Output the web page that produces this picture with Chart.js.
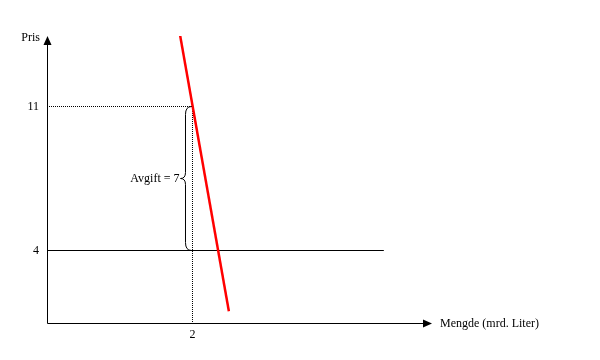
<!DOCTYPE html>
<html><head><meta charset="utf-8">
<script src="https://cdn.jsdelivr.net/npm/chart.js@4/dist/chart.umd.min.js"></script>
<style>html,body{margin:0;padding:0;background:#fff}canvas{display:block}</style>
</head><body>
<canvas id="c" width="600" height="360"></canvas>
<script>
// Data
const demandX = [1.83, 2.5];
const demandY = [14.45, 1.05];
const priceBefore = 4;        // pris uten avgift
const priceAfter = 11;        // pris med avgift
const quantity = 2;           // mengde
const priceLineEndX = 4.63;
const xTickValues = [2];
const xTickLabels = ['2'];
const yTickValues = [11, 4];
const yTickLabels = ['11', '4'];
const xAxisTitle = 'Mengde (mrd. Liter)';
const yAxisTitle = 'Pris';
const braceLabel = 'Avgift = 7';
const xMin = 0, xMax = 5.2921, yMin = 0.4757, yMax = 14.4271;

const FONT = '12px "Liberation Serif", "Times New Roman", serif';

const overlay = {
  id: 'overlay',
  afterDatasetsDraw(chart) {
    const ctx = chart.ctx, xs = chart.scales.x, ys = chart.scales.y;
    const ox = xs.getPixelForValue(xMin), oy = ys.getPixelForValue(yMin);
    const xe = xs.getPixelForValue(xMax), ye = ys.getPixelForValue(yMax);
    ctx.save();
    ctx.strokeStyle = '#000'; ctx.fillStyle = '#000'; ctx.lineWidth = 1;
    const ax = Math.round(ox) + 0.5, ay = Math.round(oy) + 0.5;
    // axes
    ctx.beginPath();
    ctx.moveTo(ax, ay); ctx.lineTo(ax, ye + 6);
    ctx.moveTo(ax, ay); ctx.lineTo(xe - 6, ay);
    ctx.stroke();
    // arrowheads
    ctx.beginPath();
    ctx.moveTo(ax, ye); ctx.lineTo(ax - 4, ye + 9); ctx.lineTo(ax + 4, ye + 9); ctx.closePath(); ctx.fill();
    ctx.beginPath();
    ctx.moveTo(xe, ay); ctx.lineTo(xe - 9, ay - 4); ctx.lineTo(xe - 9, ay + 4); ctx.closePath(); ctx.fill();
    // texts
    ctx.font = FONT; ctx.textBaseline = 'middle';
    ctx.textAlign = 'right';
    ctx.fillText(yAxisTitle, ox - 7, ye + 2);
    yTickValues.forEach((v, i) => ctx.fillText(yTickLabels[i], ox - 8, ys.getPixelForValue(v)));
    ctx.textAlign = 'center';
    xTickValues.forEach((v, i) => ctx.fillText(xTickLabels[i], xs.getPixelForValue(v), oy + 12));
    ctx.textAlign = 'left';
    ctx.fillText(xAxisTitle, xe + 8, oy + 1);
    // curly brace between priceAfter and priceBefore
    const top = ys.getPixelForValue(priceAfter), bot = ys.getPixelForValue(priceBefore);
    const qx = xs.getPixelForValue(quantity);
    const xr = qx - 1, xm = qx - 7, xt = qx - 12, mid = (top + bot) / 2;
    ctx.beginPath();
    ctx.moveTo(xr, top);
    ctx.quadraticCurveTo(xm, top, xm, top + 8);
    ctx.lineTo(xm, mid - 6);
    ctx.quadraticCurveTo(xm, mid, xt, mid);
    ctx.quadraticCurveTo(xm, mid, xm, mid + 6);
    ctx.lineTo(xm, bot - 8);
    ctx.quadraticCurveTo(xm, bot, xr, bot);
    ctx.stroke();
    ctx.textAlign = 'right';
    ctx.fillText(braceLabel, xt - 1, mid);
    ctx.restore();
  }
};

new Chart(document.getElementById('c'), {
  type: 'scatter',
  data: {
    datasets: [
      { data: [{x: 0, y: priceBefore}, {x: priceLineEndX, y: priceBefore}],
        showLine: true, borderColor: '#000', borderWidth: 1, pointRadius: 0, order: 3 },
      { data: [{x: 0, y: priceAfter}, {x: quantity, y: priceAfter}, {x: quantity, y: yMin}],
        showLine: true, borderColor: '#000', borderWidth: 1, borderDash: [1, 1], pointRadius: 0, order: 2 },
      { data: demandX.map((x, i) => ({x, y: demandY[i]})),
        showLine: true, borderColor: '#ff0000', borderWidth: 2.5, pointRadius: 0, order: 1 }
    ]
  },
  options: {
    responsive: false, animation: false,
    layout: { padding: { left: 47, right: 168, top: 36, bottom: 37 } },
    plugins: { legend: { display: false }, tooltip: { enabled: false } },
    scales: {
      x: { type: 'linear', min: xMin, max: xMax, display: false },
      y: { type: 'linear', min: yMin, max: yMax, display: false }
    }
  },
  plugins: [overlay]
});
</script>
</body></html>
